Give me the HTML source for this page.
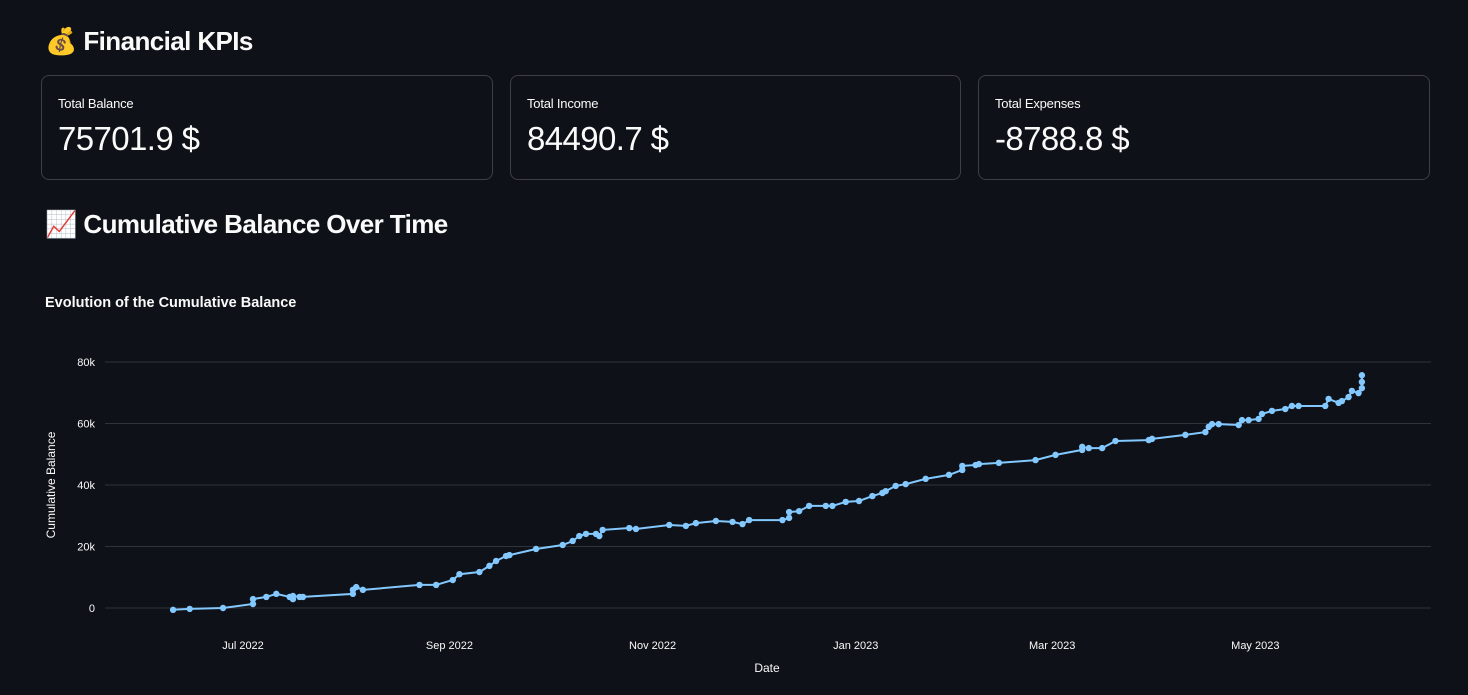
<!DOCTYPE html>
<html><head><meta charset="utf-8">
<style>
body{margin:0;width:1468px;height:695px;background:#0e1117;color:#fafafa;font-family:"Liberation Sans","Noto Sans CJK SC",sans-serif;overflow:hidden;position:relative}
h1{position:absolute;margin:0;font-size:26px;font-weight:bold;left:45px;letter-spacing:-0.6px}
.card{position:absolute;top:75px;height:105px;border:1px solid rgba(250,250,250,0.2);border-radius:8px;box-sizing:border-box}
.card .l{position:absolute;left:16px;top:20px;font-size:13px;letter-spacing:-0.2px}
.card .v{position:absolute;left:16px;top:44px;font-size:33px;letter-spacing:-0.6px}
svg{position:absolute;left:0;top:0}
</style></head><body>
<h1 style="top:26px">💰 Financial KPIs</h1>
<div class="card" style="left:41px;width:452px"><div class="l">Total Balance</div><div class="v">75701.9 $</div></div>
<div class="card" style="left:510px;width:451px"><div class="l">Total Income</div><div class="v">84490.7 $</div></div>
<div class="card" style="left:978px;width:452px"><div class="l">Total Expenses</div><div class="v">-8788.8 $</div></div>
<h1 style="top:209px">📈 Cumulative Balance Over Time</h1>
<svg id="chart" width="1468" height="695"></svg>
<script>
const days=[-21,-16,-6,3,3,7,10,14,15,15,17,18,33,33,34,36,53,58,63,65,71,74,76,79,80,88,96,99,101,103,106,107,108,116,118,128,133,136,142,147,150,152,162,164,164,167,170,175,177,181,185,189,192,193,196,199,205,212,216,216,220,221,227,238,244,252,252,254,258,262,272,273,283,289,290,291,293,299,300,302,305,306,309,313,315,317,325,326,329,330,332,333,335,336,336,336];
const balances=[-0.6,-0.3,0,1.3,2.9,3.6,4.6,3.6,2.9,3.9,3.6,3.6,4.6,5.9,6.8,5.9,7.5,7.5,9.1,11,11.7,13.7,15.3,16.9,17.2,19.2,20.5,21.8,23.4,24.1,24.1,23.4,25.4,26,25.7,27,26.7,27.6,28.3,28,27.3,28.6,28.6,29.3,31.2,31.5,33.2,33.2,33.2,34.5,34.8,36.4,37.4,38,39.7,40.3,42,43.3,44.9,46.2,46.5,46.8,47.2,48.1,49.8,51.4,52.4,52,52,54.3,54.6,55,56.3,57.2,58.9,59.8,59.8,59.5,61.1,61.1,61.5,63.1,64.1,64.7,65.7,65.7,65.7,68,66.7,67.3,68.6,70.6,69.9,71.5,73.5,75.7];
const yTicks=[0,20,40,60,80];
const yTickLabels=["0","20k","40k","60k","80k"];
const xTicks=[0,62,123,184,243,304];
const xTickLabels=["Jul 2022","Sep 2022","Nov 2022","Jan 2023","Mar 2023","May 2023"];
const NS="http://www.w3.org/2000/svg";
const svg=document.getElementById('chart');
const X=d=>243+d*3.33;
const Y=v=>608-v*3.075;
function mk(t,a,txt){const e=document.createElementNS(NS,t);for(const k in a)e.setAttribute(k,a[k]);if(txt!==undefined)e.textContent=txt;svg.appendChild(e);return e;}
let e=mk('text',{x:45,y:307,fill:'#fafafa','font-size':14.5,'font-weight':'bold','font-family':'Liberation Sans'},'Evolution of the Cumulative Balance');


yTicks.forEach((v,i)=>{
 let g=mk('line',{x1:105,x2:1431,y1:Y(v),y2:Y(v),stroke:'#31333b','stroke-width':1});
 
 
 let t=mk('text',{x:95,y:Y(v)+4,fill:'#fafafa','font-size':11,'text-anchor':'end','font-family':'Liberation Sans'},yTickLabels[i]);
 
 
});
xTicks.forEach((d,i)=>{
 let t=mk('text',{x:X(d),y:649,fill:'#fafafa','font-size':11,'text-anchor':'middle','font-family':'Liberation Sans'},xTickLabels[i]);
 
 
});
e=mk('text',{x:767,y:672,fill:'#fafafa','font-size':12,'text-anchor':'middle','font-family':'Liberation Sans'},'Date');


e=mk('text',{x:0,y:0,fill:'#fafafa','font-size':12,'text-anchor':'middle','font-family':'Liberation Sans',transform:'translate(55,485) rotate(-90)'},'Cumulative Balance');


const pts=days.map((d,i)=>X(d).toFixed(1)+','+Y(balances[i]).toFixed(1)).join(' ');
e=mk('polyline',{points:pts,fill:'none',stroke:'#83c9ff','stroke-width':2});


days.forEach((d,i)=>{
 let c=mk('circle',{cx:X(d),cy:Y(balances[i]),r:3.2,fill:'#83c9ff'});
 
 
});
</script>
</body></html>
